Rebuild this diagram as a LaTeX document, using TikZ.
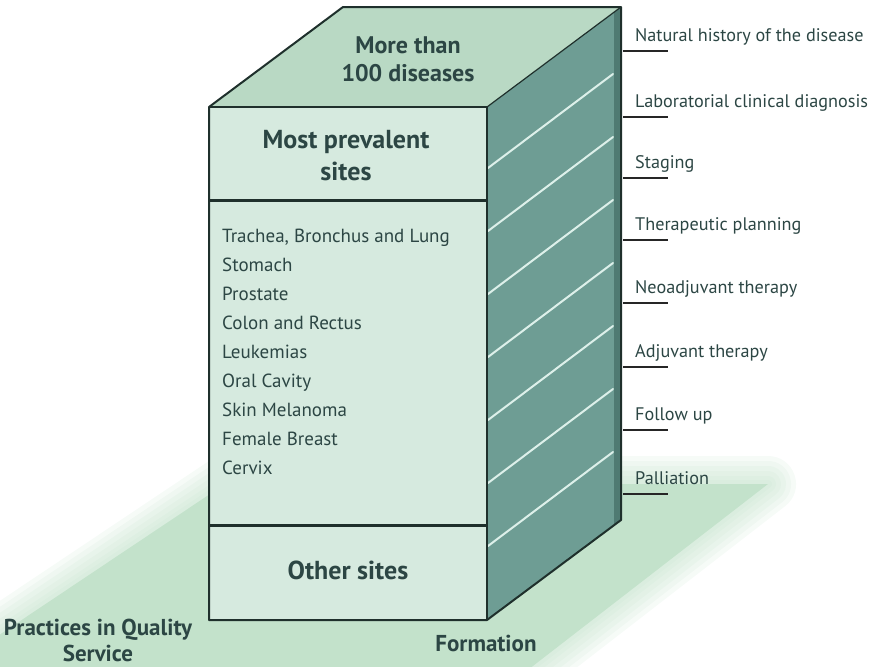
\documentclass[tikz,border=0pt]{standalone}
\usepackage{fontspec}
\setmainfont{PT Sans}
\definecolor{topc}{HTML}{B9D9C4}
\definecolor{frontc}{HTML}{D6EADF}
\definecolor{sidec}{HTML}{6E9D94}
\definecolor{stripc}{HTML}{4F7A72}
\definecolor{linec}{HTML}{1F302C}
\definecolor{txtc}{HTML}{2C4644}
\definecolor{groundc}{HTML}{C3E2CB}
\definecolor{hatchc}{HTML}{DDF0EA}
\begin{document}
\begin{tikzpicture}[x=1pt,y=-1pt,
  title/.style={text=txtc, font=\fontsize{24}{28}\selectfont\bfseries, align=center, inner sep=0pt},
  item/.style={text=txtc, font=\fontsize{19}{23}\selectfont, anchor=base west, inner sep=0pt},
  lab/.style={text=txtc, font=\fontsize{18.2}{23}\selectfont, anchor=base west, inner sep=0pt},
  uline/.style={draw=black!85, line width=2pt},
  edge/.style={draw=linec, line width=2pt, line join=round},
  hatch/.style={draw=hatchc, line width=2pt, line cap=round}]
\useasboundingbox (0,0) rectangle (876,667);
% ground with soft edges
\begin{scope}
\clip (0,0) rectangle (876,667);
\foreach \w in {56,46,36,26,16,8}
  \draw[groundc, opacity=0.15, line width=\w pt, line join=round]
    (225,484) -- (768,484) -- (489,700) -- (-98,700) -- cycle;
\fill[groundc] (225,484) -- (768,484) -- (489,700) -- (-98,700) -- cycle;
\end{scope}
% box corners
\coordinate (FTL) at (209,107);
\coordinate (FTR) at (487,107);
\coordinate (FBR) at (487,620);
\coordinate (FBL) at (209,620);
\coordinate (BTL) at (343,7);
\coordinate (BTR) at (621,7);
\coordinate (BBR) at (621,520);
% faces
\fill[sidec] (FTR) -- (BTR) -- (BBR) -- (FBR) -- cycle;
\fill[stripc] (614,12.2) -- (BTR) -- (BBR) -- (614,525.2) -- cycle;
\foreach \k in {0,...,6}
  \draw[hatch] (488,{168+63*\k}) -- (613,{74+63*\k});
\fill[topc] (FTL) -- (BTL) -- (BTR) -- (FTR) -- cycle;
\fill[frontc] (FTL) rectangle (FBR);
% outlines
\draw[edge] (FTL) -- (BTL) -- (BTR) -- (BBR) -- (FBR) -- (FBL) -- cycle;
\draw[edge] (FTL) -- (FTR) -- (FBR);
\draw[draw=linec, line width=1.2pt] (FTR) -- (BTR);
\coordinate (S1L) at (209,200);
\coordinate (S1R) at (487,200);
\coordinate (S2L) at (209,525);
\coordinate (S2R) at (487,525);
\draw[draw=linec, line width=3pt] (S1L) -- (S1R);
\draw[draw=linec, line width=3pt] (S2L) -- (S2R);
% texts on box
\node[title] (top) at (408,59) {More than\\100 diseases};
\node[title, font=\fontsize{26}{32}\selectfont\bfseries] (most) at (346,156) {Most prevalent\\sites};
\node[title, font=\fontsize{26}{32}\selectfont\bfseries] (other) at (348,570) {Other sites};
\node[item] (i1) at (222,242) {Trachea, Bronchus and Lung};
\node[item] (i2) at (222,271) {Stomach};
\node[item] (i3) at (222,300) {Prostate};
\node[item] (i4) at (222,329) {Colon and Rectus};
\node[item] (i5) at (222,358) {Leukemias};
\node[item] (i6) at (222,387) {Oral Cavity};
\node[item] (i7) at (222,416) {Skin Melanoma};
\node[item] (i8) at (222,445) {Female Breast};
\node[item] (i9) at (222,474) {Cervix};
% right labels
\node[lab] (l1) at (635,41) {Natural history of the disease};
\node[lab] (l2) at (635,107) {Laboratorial clinical diagnosis};
\node[lab] (l3) at (635,168) {Staging};
\node[lab] (l4) at (635,230) {Therapeutic planning};
\node[lab] (l5) at (635,293) {Neoadjuvant therapy};
\node[lab] (l6) at (635,357) {Adjuvant therapy};
\node[lab] (l7) at (635,420) {Follow up};
\node[lab] (l8) at (635,484) {Palliation};
\foreach \y in {51,117,178,240,303,367,430,494}
  \draw[uline] (623,\y) -- (668,\y);
% bottom labels
\node[title, font=\fontsize{23}{26}\selectfont\bfseries] (pq) at (98,640) {Practices in Quality\\Service};
\node[title, font=\fontsize{23}{26}\selectfont\bfseries] (form) at (486,643) {Formation};
\end{tikzpicture}
\end{document}
